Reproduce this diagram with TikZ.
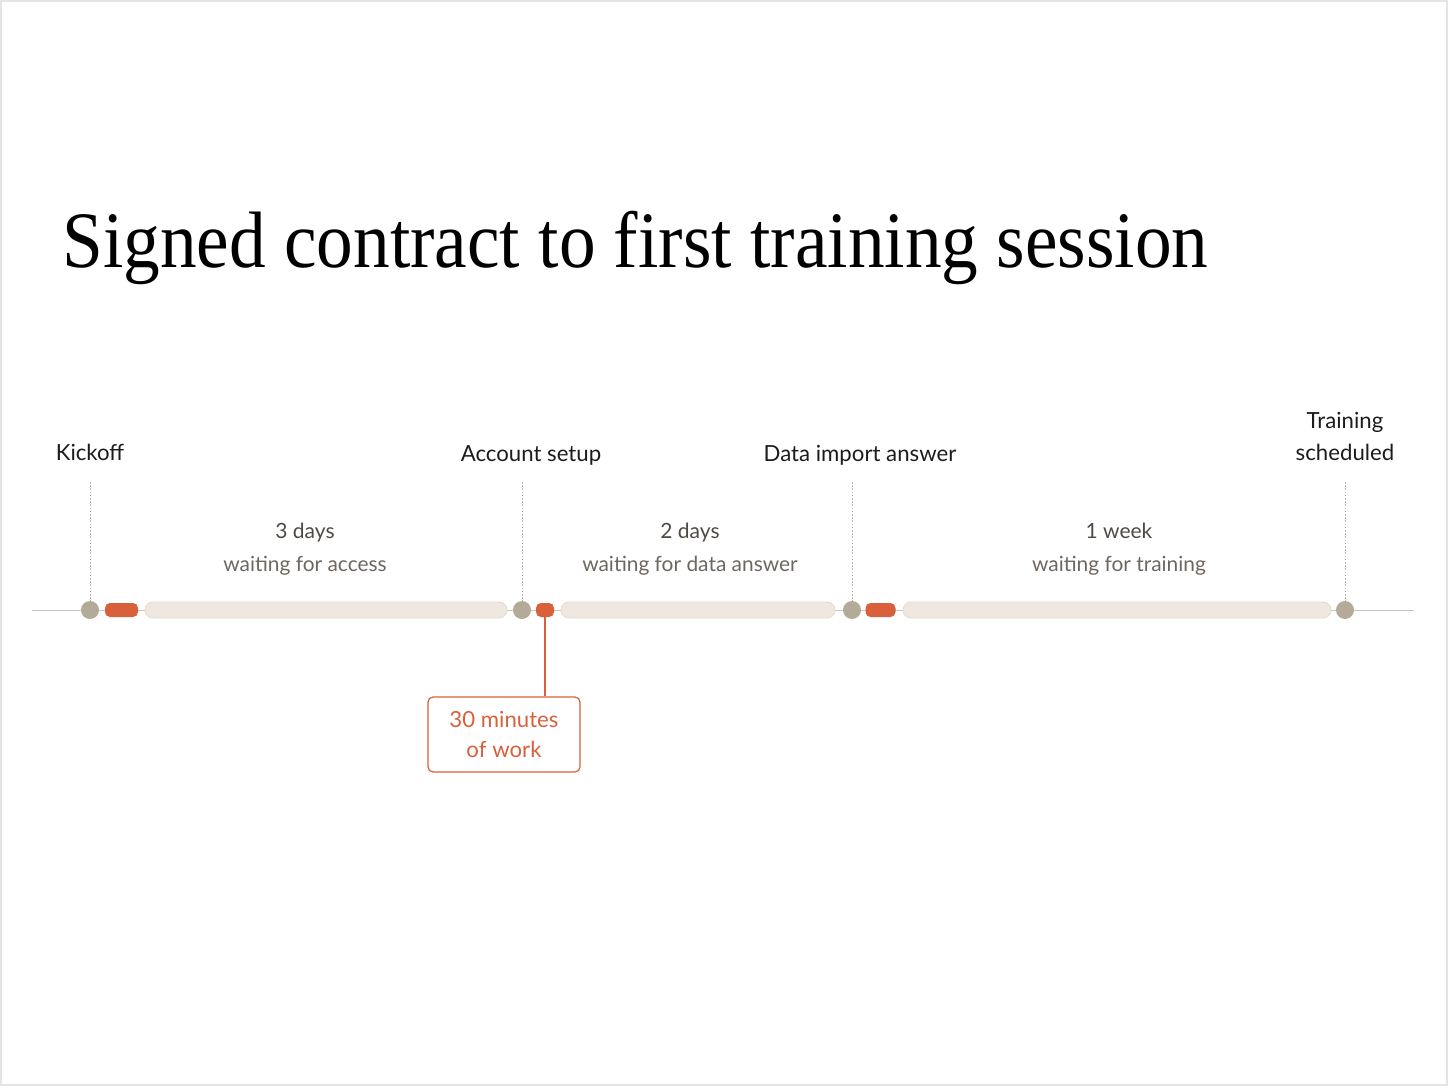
\documentclass[tikz,border=0pt]{standalone}
\usepackage{fontspec}
\setmainfont{Liberation Serif}
\newfontfamily\titlefont[FakeStretch=0.916]{Liberation Serif}
\newfontfamily\labelfont{Lato}
\usetikzlibrary{positioning}

\definecolor{framegray}{HTML}{E4E4E4}
\definecolor{axisgray}{HTML}{C9C4BC}
\definecolor{guidegray}{HTML}{B9B9B9}
\definecolor{dotgray}{HTML}{B3AA98}
\definecolor{workorange}{HTML}{D8603A}
\definecolor{waitfill}{HTML}{EFE8E0}
\definecolor{waitdraw}{HTML}{E5DCD1}
\definecolor{inkdark}{HTML}{1C1C1C}
\definecolor{durdark}{HTML}{4F4944}
\definecolor{durlight}{HTML}{6E6760}

\tikzset{
  milestone/.style={circle, fill=dotgray, minimum size=9pt, inner sep=0pt},
  workpill/.style={rectangle, rounded corners=2.5pt, fill=workorange, minimum height=7pt, inner sep=0pt},
  waitbar/.style={rectangle, rounded corners=4pt, fill=waitfill, draw=waitdraw, line width=0.4pt, minimum height=8pt, inner sep=0pt},
  mslabel/.style={font=\labelfont\fontsize{11.1}{16}\selectfont, text=inkdark, anchor=base, inner sep=0pt},
  durtop/.style={font=\labelfont\fontsize{10.5}{12}\selectfont, text=durdark, anchor=base, inner sep=0pt},
  durbottom/.style={font=\labelfont\fontsize{10.45}{12}\selectfont, text=durlight, anchor=base, inner sep=0pt},
  guide/.style={guidegray, line width=0.5pt, dash pattern=on 0.8pt off 0.8pt},
  axis/.style={axisgray, line width=0.5pt},
}

\begin{document}
\begin{tikzpicture}[x=0.5pt, y=-0.5pt]
        \useasboundingbox (0,0) rectangle (1448,1086);
        \draw[framegray, line width=1pt] (1,1) rectangle (1447,1085);
        % title
        \node[anchor=base west, inner sep=0pt, text=black, font=\titlefont\fontsize{40}{48}\selectfont] (title) at (62,268) {Signed contract to first training session};
        % axis
        \coordinate (axisstart) at (32,610);
        \coordinate (axisend) at (1414,610);
        \draw[axis] (axisstart) -- (axisend);
        % milestones
        \node[milestone] (kickoff) at (90,610) {};
        \node[milestone] (account) at (522,610) {};
        \node[milestone] (dataimport) at (852,610) {};
        \node[milestone] (training) at (1345,610) {};
        \coordinate (kickofftop) at (90,482);
        \coordinate (accounttop) at (522,482);
        \coordinate (dataimporttop) at (852,482);
        \coordinate (trainingtop) at (1345,482);
        \draw[guide] (kickofftop) -- (kickoff);
        \draw[guide] (accounttop) -- (account);
        \draw[guide] (dataimporttop) -- (dataimport);
        \draw[guide] (trainingtop) -- (training);
        \node[mslabel] (kickofflabel) at (90,460) {Kickoff};
        \node[mslabel] (accountlabel) at (531,461) {Account setup};
        \node[mslabel] (dataimportlabel) at (860,461) {Data import answer};
        \node[mslabel] (traininglabel1) at (1345,428) {Training};
        \node[mslabel] (traininglabel2) at (1345,460) {scheduled};
        % work and waiting
        \node[workpill, minimum width=16.5pt] (kickoffwork) at (121.5,610) {};
        \node[workpill, minimum width=9pt] (accountwork) at (545,610) {};
        \node[workpill, minimum width=15pt] (dataimportwork) at (880.5,610) {};
        \node[waitbar, minimum width=181pt] (accesswait) at (326,610) {};
        \node[waitbar, minimum width=137pt] (datawait) at (698,610) {};
        \node[waitbar, minimum width=214pt] (trainingwait) at (1117,610) {};
        \node[durtop] (accessdays) at (305,538) {3 days};
        \node[durbottom] (accessnote) at (305,571) {waiting for access};
        \node[durtop] (datadays) at (690,538) {2 days};
        \node[durbottom] (datanote) at (690,571) {waiting for data answer};
        \node[durtop] (trainingdays) at (1119,538) {1 week};
        \node[durbottom] (trainingnote) at (1119,571) {waiting for training};
        % callout
        \node[draw=workorange, line width=0.6pt, rounded corners=2.5pt, minimum width=76pt, minimum height=37.5pt, align=center, text=workorange, font=\labelfont\fontsize{11.1}{15}\selectfont] (worknote) at (504,734.5) {30 minutes\\of work};
        \draw[workorange, line width=0.6pt] (accountwork.south) -- (accountwork.south |- worknote.north);
\end{tikzpicture}
\end{document}
